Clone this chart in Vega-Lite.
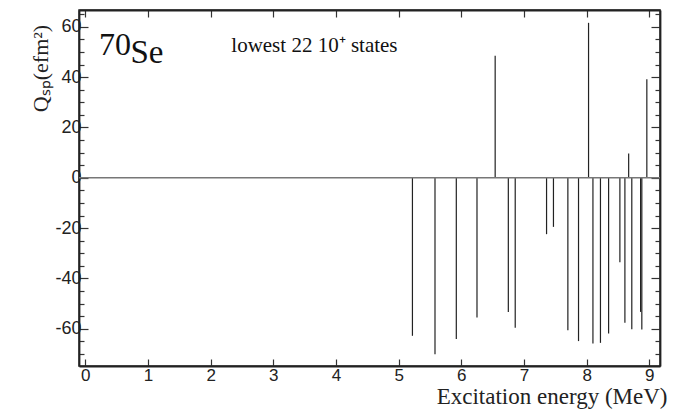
{
  "$schema": "https://vega.github.io/schema/vega-lite/v6.json",
  "width": 581,
  "height": 356,
  "autosize": "none",
  "padding": {"left": 79, "top": 10, "right": 20, "bottom": 44},
  "background": "white",
  "config": {
    "view": {"stroke": "#222", "strokeWidth": 1.5},
    "axis": {
      "grid": false,
      "labelFont": "Liberation Sans",
      "labelFontSize": 17,
      "labelColor": "#222",
      "titleFont": "Liberation Serif",
      "titleFontWeight": "normal",
      "titleFontSize": 22,
      "titleColor": "#222",
      "domainColor": "#222",
      "domainWidth": 1.8,
      "tickColor": "#333",
      "tickWidth": 1.2
    }
  },
  "datasets": {
    "states": [
      {"energy": 5.22, "q": -62.8},
      {"energy": 5.58, "q": -70.1},
      {"energy": 5.92, "q": -64.1},
      {"energy": 6.25, "q": -55.5},
      {"energy": 6.54, "q": 48.5},
      {"energy": 6.75, "q": -53.3},
      {"energy": 6.86, "q": -59.6},
      {"energy": 7.36, "q": -22.4},
      {"energy": 7.47, "q": -19.5},
      {"energy": 7.70, "q": -60.6},
      {"energy": 7.87, "q": -64.9},
      {"energy": 8.03, "q": 61.6},
      {"energy": 8.10, "q": -65.9},
      {"energy": 8.22, "q": -65.6},
      {"energy": 8.35, "q": -61.9},
      {"energy": 8.53, "q": -33.6},
      {"energy": 8.61, "q": -57.6},
      {"energy": 8.67, "q": 9.7},
      {"energy": 8.72, "q": -60.2},
      {"energy": 8.86, "q": -53.3},
      {"energy": 8.88, "q": -60.3},
      {"energy": 8.96, "q": 39.2}
    ],
    "labels": [
      {"energy": 0.22, "q": 48.8, "text": "70", "size": 32},
      {"energy": 0.72, "q": 45.6, "text": "Se", "size": 33},
      {"energy": 2.33, "q": 50.1, "text": "lowest 22 10⁺ states", "size": 21}
    ]
  },
  "resolve": {"axis": {"x": "independent", "y": "independent"}},
  "layer": [
    {
      "data": {"name": "states"},
      "mark": {"type": "rule", "color": "#222", "strokeWidth": 1.2},
      "encoding": {
        "x": {
          "field": "energy", "type": "quantitative",
          "scale": {"domain": [-0.1, 9.17], "nice": false, "zero": false},
          "axis": {
            "orient": "bottom",
            "values": [0, 1, 2, 3, 4, 5, 6, 7, 8, 9],
            "tickSize": -7,
            "labelPadding": 8,
            "labelFlush": false,
            "title": "Excitation energy (MeV)",
            "titleFontSize": 23,
            "titleAnchor": null,
            "titleAlign": "right",
            "titleBaseline": "alphabetic",
            "titleX": 588,
            "titleY": 37
          }
        },
        "y": {
          "field": "q", "type": "quantitative",
          "scale": {"domain": [-74.8, 66.7], "nice": false, "zero": false},
          "axis": {
            "orient": "left",
            "values": [-70, -65, -60, -55, -50, -45, -40, -35, -30, -25, -20, -15, -10, -5, 0, 5, 10, 15, 20, 25, 30, 35, 40, 45, 50, 55, 60, 65],
            "labelExpr": "datum.value % 20 === 0 ? '' + datum.value : ''",
            "tickSize": {"condition": {"test": "datum.value % 20 === 0", "value": -9}, "value": -5},
            "labelFontSize": 18,
            "labelPadding": 7,
            "labelFlush": false,
            "labelOverlap": false,
            "title": "Qₛₚ(efm²)",
            "titleAngle": -90,
            "titleAnchor": null,
            "titleAlign": "center",
            "titleBaseline": "alphabetic",
            "titleX": -32,
            "titleY": 58
          }
        },
        "y2": {"datum": 0}
      }
    },
    {
      "data": {"values": [{"z": 0}]},
      "mark": {"type": "rule", "color": "#777", "strokeWidth": 1.4},
      "encoding": {
        "x": {
          "datum": -0.1, "type": "quantitative",
          "scale": {"domain": [-0.1, 9.17], "nice": false, "zero": false},
          "axis": {
            "orient": "top",
            "values": [0, 1, 2, 3, 4, 5, 6, 7, 8, 9],
            "tickSize": -7,
            "labels": false,
            "title": null
          }
        },
        "x2": {"datum": 9.17},
        "y": {
          "field": "z", "type": "quantitative",
          "scale": {"domain": [-74.8, 66.7], "nice": false, "zero": false},
          "axis": {
            "orient": "right",
            "values": [-70, -65, -60, -55, -50, -45, -40, -35, -30, -25, -20, -15, -10, -5, 0, 5, 10, 15, 20, 25, 30, 35, 40, 45, 50, 55, 60, 65],
            "tickSize": {"condition": {"test": "datum.value % 20 === 0", "value": -9}, "value": -5},
            "labels": false,
            "title": null
          }
        }
      }
    },
    {
      "data": {"name": "labels"},
      "mark": {"type": "text", "font": "Liberation Serif", "align": "left", "baseline": "alphabetic", "color": "#111"},
      "encoding": {
        "x": {"field": "energy", "type": "quantitative", "axis": null},
        "y": {"field": "q", "type": "quantitative", "axis": null},
        "text": {"field": "text"},
        "size": {"field": "size", "type": "quantitative", "scale": null}
      }
    }
  ]
}
